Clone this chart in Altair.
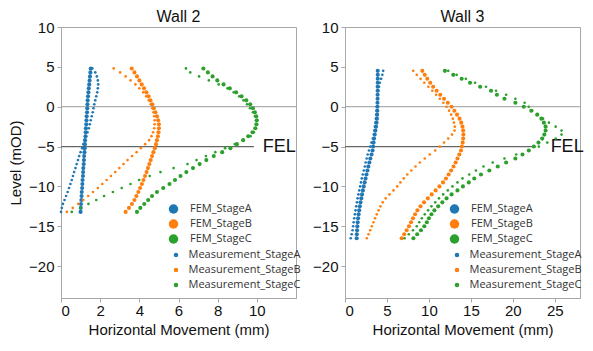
import altair as alt
import pandas as pd

series_names = ["FEM_StageA", "FEM_StageB", "FEM_StageC",
                "Measurement_StageA", "Measurement_StageB", "Measurement_StageC"]
stage_colors = ["#1f77b4", "#ff7f0e", "#2ca02c"]

# ---------------- Wall 2 ----------------
w2_levels = [4.8, 4.3, 3.8, 3.3, 2.8, 2.3, 1.8, 1.3, 0.8, 0.3, -0.2, -0.7, -1.2, -1.7,
             -2.2, -2.7, -3.2, -3.7, -4.2, -4.7, -5.2, -5.7, -6.2, -6.7, -7.2, -7.7,
             -8.2, -8.7, -9.2, -9.7, -10.2, -10.7, -11.2, -11.7, -12.2, -12.7, -13.2]
w2_fem_a = [1.52, 1.50, 1.48, 1.46, 1.44, 1.42, 1.40, 1.38, 1.36, 1.35, 1.34, 1.33, 1.31, 1.30,
            1.29, 1.27, 1.26, 1.25, 1.23, 1.22, 1.21, 1.20, 1.18, 1.17, 1.16, 1.14,
            1.13, 1.12, 1.10, 1.09, 1.08, 1.06, 1.05, 1.04, 1.02, 1.01, 1.00]
w2_fem_b = [3.61, 3.75, 3.88, 4.00, 4.12, 4.24, 4.36, 4.47, 4.57, 4.66, 4.74, 4.82, 4.90, 4.96,
            5.00, 5.00, 4.98, 4.95, 4.90, 4.85, 4.79, 4.72, 4.65, 4.58, 4.51, 4.44,
            4.37, 4.29, 4.21, 4.13, 4.04, 3.95, 3.85, 3.75, 3.62, 3.47, 3.30]
w2_fem_c = [7.27, 7.50, 7.74, 7.98, 8.30, 8.62, 8.94, 9.22, 9.46, 9.66, 9.80, 9.90, 9.97, 10.0,
            9.98, 9.92, 9.78, 9.56, 9.30, 8.98, 8.65, 8.23, 7.80, 7.42, 7.08, 6.74,
            6.40, 6.10, 5.82, 5.54, 5.22, 4.90, 4.65, 4.45, 4.25, 4.05, 3.88]
w2_mea_a = [1.60, 1.75, 1.83, 1.88, 1.90, 1.88, 1.85, 1.80, 1.75, 1.70, 1.66, 1.62, 1.57, 1.52,
            1.47, 1.42, 1.35, 1.28, 1.20, 1.14, 1.08, 1.00, 0.93, 0.87, 0.80, 0.74,
            0.67, 0.61, 0.55, 0.48, 0.41, 0.34, 0.26, 0.18, 0.10, 0.04, 0.00]
w2_mea_b = [2.69, 3.02, 3.30, 3.55, 3.80, 4.00, 4.20, 4.35, 4.48, 4.58, 4.66, 4.72, 4.76, 4.78,
            4.78, 4.76, 4.70, 4.62, 4.50, 4.30, 4.08, 3.86, 3.63, 3.40, 3.19, 2.98,
            2.77, 2.55, 2.33, 2.11, 1.88, 1.63, 1.39, 1.14, 0.88, 0.60, 0.30]
w2_mea_c = [6.38, 6.60, 7.05, 7.55, 8.05, 8.50, 8.82, 9.10, 9.32, 9.50, 9.65, 9.80, 9.90, 9.96,
            10.0, 9.95, 9.85, 9.68, 9.32, 8.88, 8.38, 7.88, 7.40, 6.92, 6.46, 5.75,
            5.08, 4.53, 3.99, 3.55, 3.10, 2.65, 2.20, 1.80, 1.40, 1.00, 0.55]

# ---------------- Wall 3 ----------------
w3_levels = [4.5, 4.0, 3.5, 3.0, 2.5, 2.0, 1.5, 1.0, 0.5, 0.0, -0.5, -1.0, -1.5, -2.0, -2.5,
             -3.0, -3.5, -4.0, -4.5, -5.0, -5.5, -6.0, -6.5, -7.0, -7.5, -8.0, -8.5, -9.0,
             -9.5, -10.0, -10.5, -11.0, -11.5, -12.0, -12.5, -13.0, -13.5, -14.0, -14.5,
             -15.0, -15.5, -16.0, -16.5]
w3_fem_a = [3.90, 3.90, 3.90, 3.90, 3.89, 3.89, 3.88, 3.88, 3.87, 3.86, 3.85, 3.83, 3.80, 3.76, 3.70,
            3.62, 3.54, 3.46, 3.40, 3.35, 3.28, 3.16, 3.02, 2.90, 2.78, 2.67, 2.56, 2.45,
            2.34, 2.23, 2.13, 2.03, 1.94, 1.85, 1.77, 1.69, 1.62, 1.56, 1.51,
            1.47, 1.44, 1.41, 1.39]
w3_fem_b = [9.21, 9.50, 9.80, 10.15, 10.5, 10.92, 11.35, 11.8, 12.25, 12.7, 13.03, 13.35, 13.65, 13.85, 14.0,
            14.08, 14.1, 14.08, 14.02, 13.93, 13.82, 13.62, 13.4, 13.18, 12.93, 12.65, 12.35, 12.03,
            11.68, 11.25, 10.8, 10.33, 9.87, 9.42, 9.0, 8.63, 8.35, 8.10, 7.87,
            7.62, 7.35, 7.05, 6.75]
w3_fem_c = [11.9, 12.9, 13.9, 14.9, 16.1, 17.4, 18.1, 19.0, 20.3, 21.3, 22.2, 22.9, 23.4, 23.7, 23.9,
            23.9, 23.75, 23.5, 23.05, 22.5, 21.9, 21.15, 20.3, 19.2, 18.2, 17.2, 16.2, 15.4,
            14.75, 14.05, 13.4, 12.7, 12.1, 11.6, 11.1, 10.65, 10.3, 10.0, 9.75,
            9.45, 9.05, 8.6, 8.15]
w3_mea_a = [4.55, 4.45, 4.30, 4.15, 4.05, 3.98, 3.92, 3.88, 3.84, 3.80, 3.76, 3.72, 3.68, 3.62, 3.56,
            3.50, 3.45, 3.32, 3.15, 3.00, 2.85, 2.70, 2.58, 2.46, 2.36, 2.24, 2.12, 2.00,
            1.90, 1.80, 1.70, 1.60, 1.50, 1.42, 1.34, 1.26, 1.18, 1.10, 1.03,
            0.97, 0.90, 0.80, 0.68]
w3_mea_b = [8.13, 8.55, 9.00, 9.45, 9.93, 10.4, 10.85, 11.3, 11.72, 12.1, 12.4, 12.65, 12.85, 12.98, 13.08,
            13.05, 12.75, 12.3, 11.8, 11.3, 10.75, 10.1, 9.5, 8.92, 8.4, 7.9, 7.42, 7.0,
            6.6, 6.22, 5.78, 5.3, 4.85, 4.5, 4.22, 4.0, 3.78, 3.58, 3.4,
            3.2, 3.0, 2.8, 2.6]
w3_mea_c = [12.3, 13.3, 14.4, 15.5, 16.8, 18.0, 19.2, 20.3, 21.4, 21.9, 22.3, 22.9, 23.6, 24.3, 25.1,
            25.8, 25.8, 25.1, 24.1, 23.1, 21.9, 20.4, 19.0, 17.6, 16.5, 15.6, 14.8, 14.0,
            13.4, 12.8, 12.25, 11.7, 11.2, 10.75, 10.3, 9.9, 9.5, 9.15, 8.85,
            8.55, 8.1, 7.6, 7.1]

y_ticks = [10, 5, 0, -5, -10, -15, -20]
w2_x_ticks = [0, 2, 4, 6, 8, 10]
w3_x_ticks = [0, 5, 10, 15, 20, 25]
fel_level = -5
zero_level = 0


def make_df(levels, columns):
    rows = []
    for name, xs in zip(series_names, columns):
        for lv, xv in zip(levels, xs):
            rows.append({"level": lv, "x": xv, "series": name})
    return pd.DataFrame(rows)


df2 = make_df(w2_levels, [w2_fem_a, w2_fem_b, w2_fem_c, w2_mea_a, w2_mea_b, w2_mea_c])
df3 = make_df(w3_levels, [w3_fem_a, w3_fem_b, w3_fem_c, w3_mea_a, w3_mea_b, w3_mea_c])

FONT = "Liberation Sans"
LEG_FONT = "Open Sans"
PW = 235
PH = 271


def panel(df, title, xdom, xticks, fel_end, fel_text_x, ytitle, leg_x):
    xenc = alt.X("x:Q", scale=alt.Scale(domain=xdom, nice=False, zero=False),
                 axis=alt.Axis(values=xticks, title="Horizontal Movement (mm)", grid=False))
    yaxis = alt.Axis(values=y_ticks, grid=False, title=ytitle) if ytitle else alt.Axis(values=y_ticks, grid=False, title=None)
    yenc = alt.Y("level:Q", scale=alt.Scale(domain=[-24, 10], nice=False), axis=yaxis)

    one = pd.DataFrame({"a": [0]})
    zero_rule = alt.Chart(one).mark_rule(color="#9a9a9a", strokeWidth=1).encode(
        y=alt.datum(zero_level))
    fel_rule = alt.Chart(one).mark_rule(color="#666666", strokeWidth=1.3).encode(
        x=alt.datum(xdom[0]), x2=alt.datum(fel_end), y=alt.datum(fel_level))
    fel_text = alt.Chart(one).mark_text(text="FEL", align="left", baseline="middle",
                                        fontSize=18, font=FONT, color="#111").encode(
        x=alt.datum(fel_text_x), y=alt.datum(fel_level))

    fem = alt.Chart(df).transform_filter(
        alt.FieldOneOfPredicate(field="series", oneOf=series_names[:3])
    ).mark_circle(size=17, opacity=1).encode(
        x=xenc, y=yenc,
        color=alt.Color("series:N", scale=alt.Scale(domain=series_names[:3], range=stage_colors),
                        legend=alt.Legend(orient="none", legendX=leg_x, legendY=176.5, title=None,
                                          symbolType="circle", symbolSize=90, symbolStrokeWidth=0,
                                          labelFont=LEG_FONT, labelFontSize=11, labelColor="#333",
                                          labelOffset=11, rowPadding=3, padding=0)))
    mea = alt.Chart(df).transform_filter(
        alt.FieldOneOfPredicate(field="series", oneOf=series_names[3:])
    ).mark_circle(size=7, opacity=1).encode(
        x=xenc, y=yenc,
        color=alt.Color("series:N", scale=alt.Scale(domain=series_names[3:], range=stage_colors),
                        legend=alt.Legend(orient="none", legendX=leg_x + 2.5, legendY=222.5, title=None,
                                          symbolType="circle", symbolSize=20, symbolStrokeWidth=0,
                                          labelFont=LEG_FONT, labelFontSize=11, labelColor="#333",
                                          labelOffset=7, rowPadding=3, padding=0)))
    return alt.layer(zero_rule, fel_rule, fel_text, fem, mea).resolve_scale(
        color="independent").properties(
        width=PW, height=PH,
        title=alt.TitleParams(title, fontSize=16, fontWeight="normal", font=FONT,
                              color="#111", offset=-5, frame="group"))


left = panel(df2, "Wall 2", [0, 12], w2_x_ticks, 9.85, 10.3, "Level (mOD)", 107)
right = panel(df3, "Wall 3", [0, 28], w3_x_ticks, 22.7, 24.5, None, 104)

chart = alt.hconcat(left, right, spacing=10).resolve_scale(color="independent").properties(
    padding={"left": 0, "top": 0, "right": 0, "bottom": 0}
).configure_view(stroke="#a8a8a8", strokeWidth=1).configure_axis(
    domainColor="#a8a8a8", tickColor="#a8a8a8", tickSize=4,
    labelFont=FONT, labelFontSize=15, labelColor="#111", labelPadding=3,
    titleFont=FONT, titleFontSize=15, titleFontWeight="normal", titleColor="#111",
).configure_axisY(titlePadding=5).configure_axisX(titlePadding=4, labelPadding=1)

chart.save("out.html", embed_options={"renderer": "svg", "actions": False})
